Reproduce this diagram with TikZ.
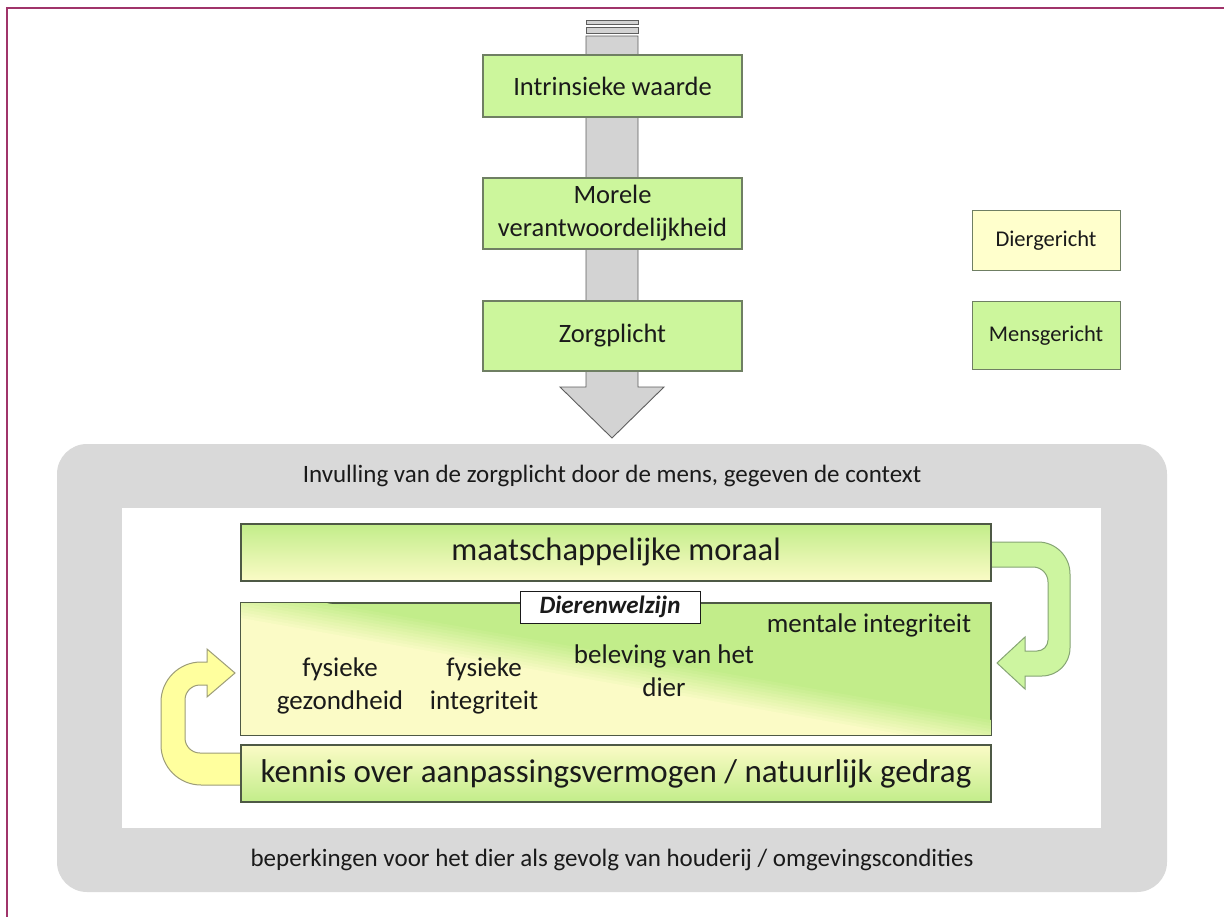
\documentclass[tikz,border=0pt]{standalone}
\usepackage{fontspec}
\setmainfont{Carlito}
\definecolor{frame}{HTML}{A0346A}
\definecolor{boxgreen}{HTML}{CCF69C}
\definecolor{boxyellow}{HTML}{FFFFCC}
\definecolor{boxline}{HTML}{6F7F63}
\definecolor{shaftgray}{HTML}{D3D3D3}
\definecolor{shaftline}{HTML}{5E5E5E}
\definecolor{panel}{HTML}{D9D9D9}
\definecolor{dwgreen}{HTML}{C2ED8A}
\definecolor{dwyellow}{HTML}{FBFBC6}
\definecolor{arrgreen}{HTML}{CDF5A0}
\definecolor{arrgreenline}{HTML}{86A574}
\definecolor{arryellow}{HTML}{FFFF9E}
\definecolor{arryellowline}{HTML}{9C9C78}
\definecolor{txt}{HTML}{1A1A1A}
\begin{document}
\begin{tikzpicture}[x=1pt,y=-1pt,
  topbox/.style={draw=boxline, line width=1.2pt, fill=boxgreen, minimum width=259pt, text=txt,
    font=\fontsize{26.5}{33}\selectfont, align=center, inner sep=0pt},
  sidebox/.style={draw=boxline, line width=1pt, minimum width=148pt, text=txt,
    font=\fontsize{22.5}{27}\selectfont, inner sep=0pt},
  widebox/.style={draw=boxline!70!black, line width=1.2pt, minimum width=750pt, text=txt, inner sep=0pt},
  bigtext/.style={text=txt, font=\fontsize{32.5}{38}\selectfont},
  paneltext/.style={text=txt, font=\fontsize{25}{30}\selectfont},
  dwtext/.style={text=txt, font=\fontsize{27}{33}\selectfont, align=center, inner sep=0pt},
  shaft/.style={fill=shaftgray, draw=shaftline, line width=0.9pt},
]
\useasboundingbox (0,0) rectangle (1224,917);
\fill[white] (0,0) rectangle (1224,917);
% frame
\draw[frame, line width=2.5pt] (7,917) -- (7,8) -- (1224,8);

% gray shaft arrow
\draw[shaft] (586,20) rectangle (638,24);
\draw[shaft] (586,27) rectangle (638,33);
\draw[shaft] (586,36) -- (638,36) -- (638,387) -- (664,387) -- (612,438) -- (560,387) -- (586,387) -- cycle;

% top boxes
\node[topbox, minimum height=62pt] (iw) at (612.5,86) {Intrinsieke waarde};
\node[topbox, minimum height=71pt] (mv) at (612.5,213.5) {Morele\\verantwoordelijkheid};
\node[topbox, minimum height=70pt] (zp) at (612.5,336) {Zorgplicht};

% legend boxes
\node[sidebox, fill=boxyellow, minimum height=60pt] (dg) at (1046,241) {Diergericht};
\node[sidebox, fill=boxgreen, minimum height=68pt] (mg) at (1046,336) {Mensgericht};

% panel
\fill[panel, rounded corners=30pt] (57,444) rectangle (1167,892);
\fill[white] (122,508) rectangle (1101,828);
\node[paneltext] (inv) at (612,476) {Invulling van de zorgplicht door de mens, gegeven de context};
\node[paneltext] (bep) at (612,860) {beperkingen voor het dier als gevolg van houderij / omgevingscondities};

% green U-turn arrow (right)
\draw[fill=arrgreen, draw=arrgreenline, line width=1pt]
  (991,542) -- (1038,542) .. controls (1055.7,542) and (1070,556.3) .. (1070,574)
  -- (1070,648) .. controls (1070,663.5) and (1057.5,676) .. (1042,676)
  -- (1025,676) -- (1025,689) -- (997,663) -- (1025,637) -- (1025,651)
  -- (1037,651) .. controls (1043.1,651) and (1048,646.1) .. (1048,640)
  -- (1048,582) .. controls (1048,573.7) and (1041.3,567) .. (1033,567)
  -- (991,567) -- cycle;

% yellow U-turn arrow (left)
\draw[fill=arryellow, draw=arryellowline, line width=1pt]
  (241,753) -- (200,753) .. controls (191.7,753) and (185,746.3) .. (185,738)
  -- (185,700) .. controls (185,691.7) and (191.7,685) .. (200,685)
  -- (207,685) -- (207,697) -- (235,673) -- (207,649) -- (207,662)
  -- (201,662) .. controls (179,662) and (161,680) .. (161,702)
  -- (161,745) .. controls (161,767) and (179,785) .. (201,785)
  -- (241,785) -- cycle;

% maatschappelijke moraal
\node[widebox, minimum height=57pt, top color=dwgreen, bottom color=dwyellow, bigtext] (mm) at (616,552.5) {maatschappelijke moraal};

% Dierenwelzijn box
\node[widebox, minimum height=132pt, fill=dwgreen] (dw) at (616,669) {};
\begin{scope}
  \clip (dw.north west) rectangle (dw.south east);
  \foreach \k in {0,...,10} {
    \pgfmathtruncatemacro\p{(\k+1)*100/11}
    \fill[dwyellow!\p!dwgreen] (241,603-15+3*\k) -- (991,735-15+3*\k) -- (991,800) -- (241,800) -- cycle;
  }
\end{scope}
\draw[draw=boxline!70!black, line width=1.2pt] (dw.north west) rectangle (dw.south east);

% kennis box
\node[widebox, minimum height=57pt, top color=dwyellow, bottom color=dwgreen, text=txt,
  font=\fontsize{33}{38}\selectfont] (ke) at (616,773.5) {kennis over aanpassingsvermogen / natuurlijk gedrag};

% label
\node[draw=txt, fill=white, line width=1pt, minimum width=180pt, minimum height=32pt, inner sep=0pt,
  text=txt, font=\bfseries\itshape\fontsize{25}{30}\selectfont] (dwl) at (610,607) {Dierenwelzijn};

% inner texts
\node[dwtext] (fg) at (340,686) {fysieke\\gezondheid};
\node[dwtext] (fi) at (484,686) {fysieke\\integriteit};
\node[dwtext] (bv) at (664,671) {beleving van het\\dier};
\node[dwtext] (mi) at (869,625) {mentale integriteit};
\end{tikzpicture}
\end{document}
